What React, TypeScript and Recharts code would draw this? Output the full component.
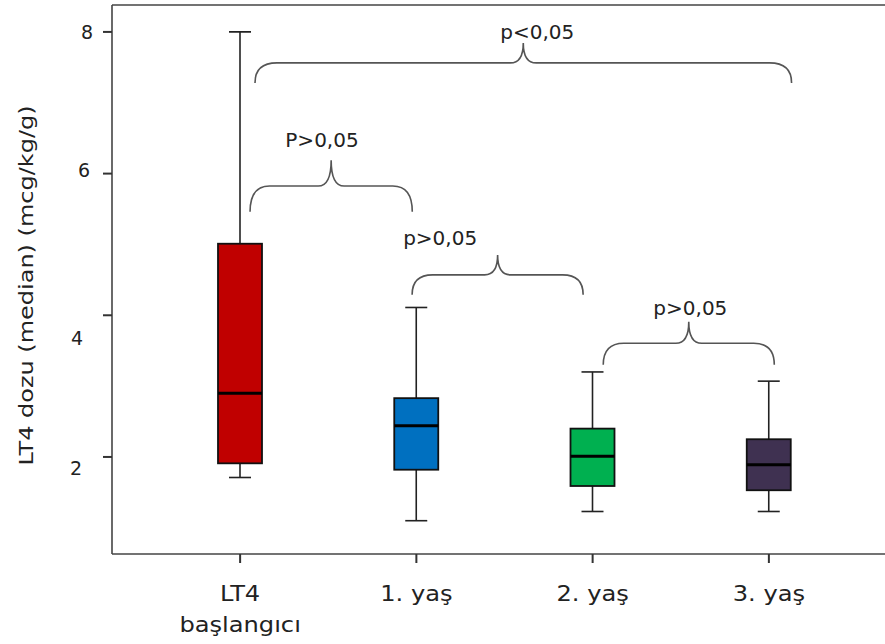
import { ComposedChart, Bar, XAxis, YAxis, ReferenceArea, ReferenceDot, ReferenceLine } from 'recharts'

const categories = ['LT4\nbaşlangıcı', '1. yaş', '2. yaş', '3. yaş']
const whiskerLow = [1.71, 1.1, 1.23, 1.23]
const q1 = [1.91, 1.82, 1.59, 1.53]
const medians = [2.9, 2.44, 2.01, 1.89]
const q3 = [5.01, 2.83, 2.4, 2.25]
const whiskerHigh = [8.0, 4.11, 3.2, 3.07]
const boxColors = ['#C00000', '#0070C0', '#00B050', '#3F3151']

// significance braces (x in category index units, y in data units)
const braceLabels = ['p<0,05', 'P>0,05', 'p>0,05', 'p>0,05']
const braceFrom = [0.085, 0.057, 0.976, 2.06]
const braceTo = [3.128, 0.977, 1.946, 3.03]
const braceBase = [7.28, 5.46, 4.29, 3.3]
const braceTip = [7.845, 6.19, 4.85, 3.91]
const braceLabelX = [1.686, 0.465, 1.135, 2.554]
const braceLabelY = [8.0, 6.475, 5.09, 4.1]

const yTicks = [2, 4, 6, 8]
const yDomain = [0.63, 8.38]
const yTitle = 'LT4 dozu  (median) (mcg/kg/g)'

const data = categories.map((name, i) => ({
  name,
  low: whiskerLow[i],
  q1: q1[i],
  median: medians[i],
  q3: q3[i],
  high: whiskerHigh[i],
  color: boxColors[i],
}))

const textColor = '#222'
const font = 'DejaVu Sans'

function BoxShape(props: any) {
  const { x, y, width, height, payload } = props
  const { low, high } = payload
  const k = height / (high - low)
  const py = (v: number) => y + (high - v) * k
  const cx = x + width / 2
  const cap = width / 4
  return (
    <g>
      <line x1={cx} x2={cx} y1={py(high)} y2={py(low)} stroke="#222" strokeWidth={1.6} />
      <line x1={cx - cap} x2={cx + cap} y1={py(high)} y2={py(high)} stroke="#222" strokeWidth={1.6} />
      <line x1={cx - cap} x2={cx + cap} y1={py(low)} y2={py(low)} stroke="#222" strokeWidth={1.6} />
      <rect
        x={x}
        y={py(payload.q3)}
        width={width}
        height={py(payload.q1) - py(payload.q3)}
        fill={payload.color}
        stroke="#111"
        strokeWidth={1.8}
      />
      <line x1={x} x2={x + width} y1={py(payload.median)} y2={py(payload.median)} stroke="#000" strokeWidth={3} />
    </g>
  )
}

function BraceShape(props: any) {
  const { x, y, width, height } = props
  const x1 = x
  const x2 = x + width
  const yt = y
  const yb = y + height
  const yh = yt + height * 0.5
  const xm = (x1 + x2) / 2
  const r = Math.min(22, width * 0.12)
  const r2 = 13
  const d = `M${x1},${yb} Q${x1},${yh} ${x1 + r},${yh} L${xm - r2},${yh} Q${xm},${yh} ${xm},${yt} Q${xm},${yh} ${xm + r2},${yh} L${x2 - r},${yh} Q${x2},${yh} ${x2},${yb}`
  return <path d={d} fill="none" stroke="#555" strokeWidth={1.6} />
}

function BraceLabel(props: any) {
  const { cx, cy, text } = props
  return (
    <text x={cx} y={cy + 7} textAnchor="middle" fontSize={20} fill={textColor} fontFamily={font}>
      {text}
    </text>
  )
}

function XTick(props: any) {
  const { x, y, payload } = props
  const lines = String(payload.value).split('\n')
  return (
    <g>
      {lines.map((l, i) => (
        <text
          key={i}
          transform={`translate(${x},${y + 36 + i * 31}) scale(1.15,1)`}
          textAnchor="middle"
          fontSize={21}
          fill={textColor}
          fontFamily={font}
        >
          {l}
        </text>
      ))}
    </g>
  )
}

// label nudges to follow the original's loose placement
const yTickNudge: Record<number, [number, number]> = {
  8: [-8, 0],
  6: [-11, -4],
  4: [-18, 23],
  2: [-19, 11],
}

function YTick(props: any) {
  const { x, y, payload } = props
  const [dx, dy] = yTickNudge[payload.value] || [0, 0]
  return (
    <text x={x + dx} y={y + dy + 7} textAnchor="end" fontSize={19} fill={textColor} fontFamily={font}>
      {payload.value}
    </text>
  )
}

function YTitle(props: any) {
  const vb = props.viewBox
  const cx = vb.x + 26
  const cy = vb.y + vb.height / 2 + 6
  return (
    <text
      transform={`translate(${cx + 7},${cy}) rotate(-90) scale(1.2,1)`}
      textAnchor="middle"
      fontSize={20}
      fill={textColor}
      fontFamily={font}
    >
      {yTitle}
    </text>
  )
}

export default function App() {
  return (
    <div style={{ position: 'absolute', left: 0, top: 0, background: '#fff' }}>
      <ComposedChart
        width={885}
        height={644}
        data={data}
        margin={{ top: 5, right: 0, left: 0, bottom: 0 }}
        style={{ fontFamily: font }}
      >
        <XAxis
          dataKey="name"
          interval={0}
          height={90}
          padding={{ left: 40, right: 28 }}
          tick={<XTick />}
          tickSize={9}
          tickLine={{ stroke: '#333', strokeWidth: 2 }}
          axisLine={{ stroke: '#444', strokeWidth: 1.6 }}
        />
        <XAxis
          xAxisId="num"
          type="number"
          domain={[0, 3]}
          padding={{ left: 128, right: 116 }}
          allowDataOverflow
          hide
        />
        <YAxis
          width={112}
          domain={yDomain}
          ticks={yTicks}
          allowDataOverflow
          tick={<YTick />}
          tickSize={9}
          tickLine={{ stroke: '#333', strokeWidth: 2 }}
          axisLine={{ stroke: '#444', strokeWidth: 1.6 }}
          label={(p: any) => <YTitle {...p} />}
        />
        <ReferenceLine y={yDomain[1]} stroke="#444" strokeWidth={1.6} ifOverflow="visible" />
        <Bar
          dataKey={(d: any) => [d.low, d.high]}
          barSize={44}
          shape={<BoxShape />}
          isAnimationActive={false}
        />
        {braceLabels.map((label, i) => (
          <ReferenceArea
            key={`brace-${i}`}
            xAxisId="num"
            x1={braceFrom[i]}
            x2={braceTo[i]}
            y1={braceBase[i]}
            y2={braceTip[i]}
            ifOverflow="visible"
            shape={<BraceShape />}
          />
        ))}
        {braceLabels.map((label, i) => (
          <ReferenceDot
            key={`label-${i}`}
            xAxisId="num"
            x={braceLabelX[i]}
            y={braceLabelY[i]}
            ifOverflow="visible"
            shape={<BraceLabel text={label} />}
          />
        ))}
      </ComposedChart>
    </div>
  )
}
